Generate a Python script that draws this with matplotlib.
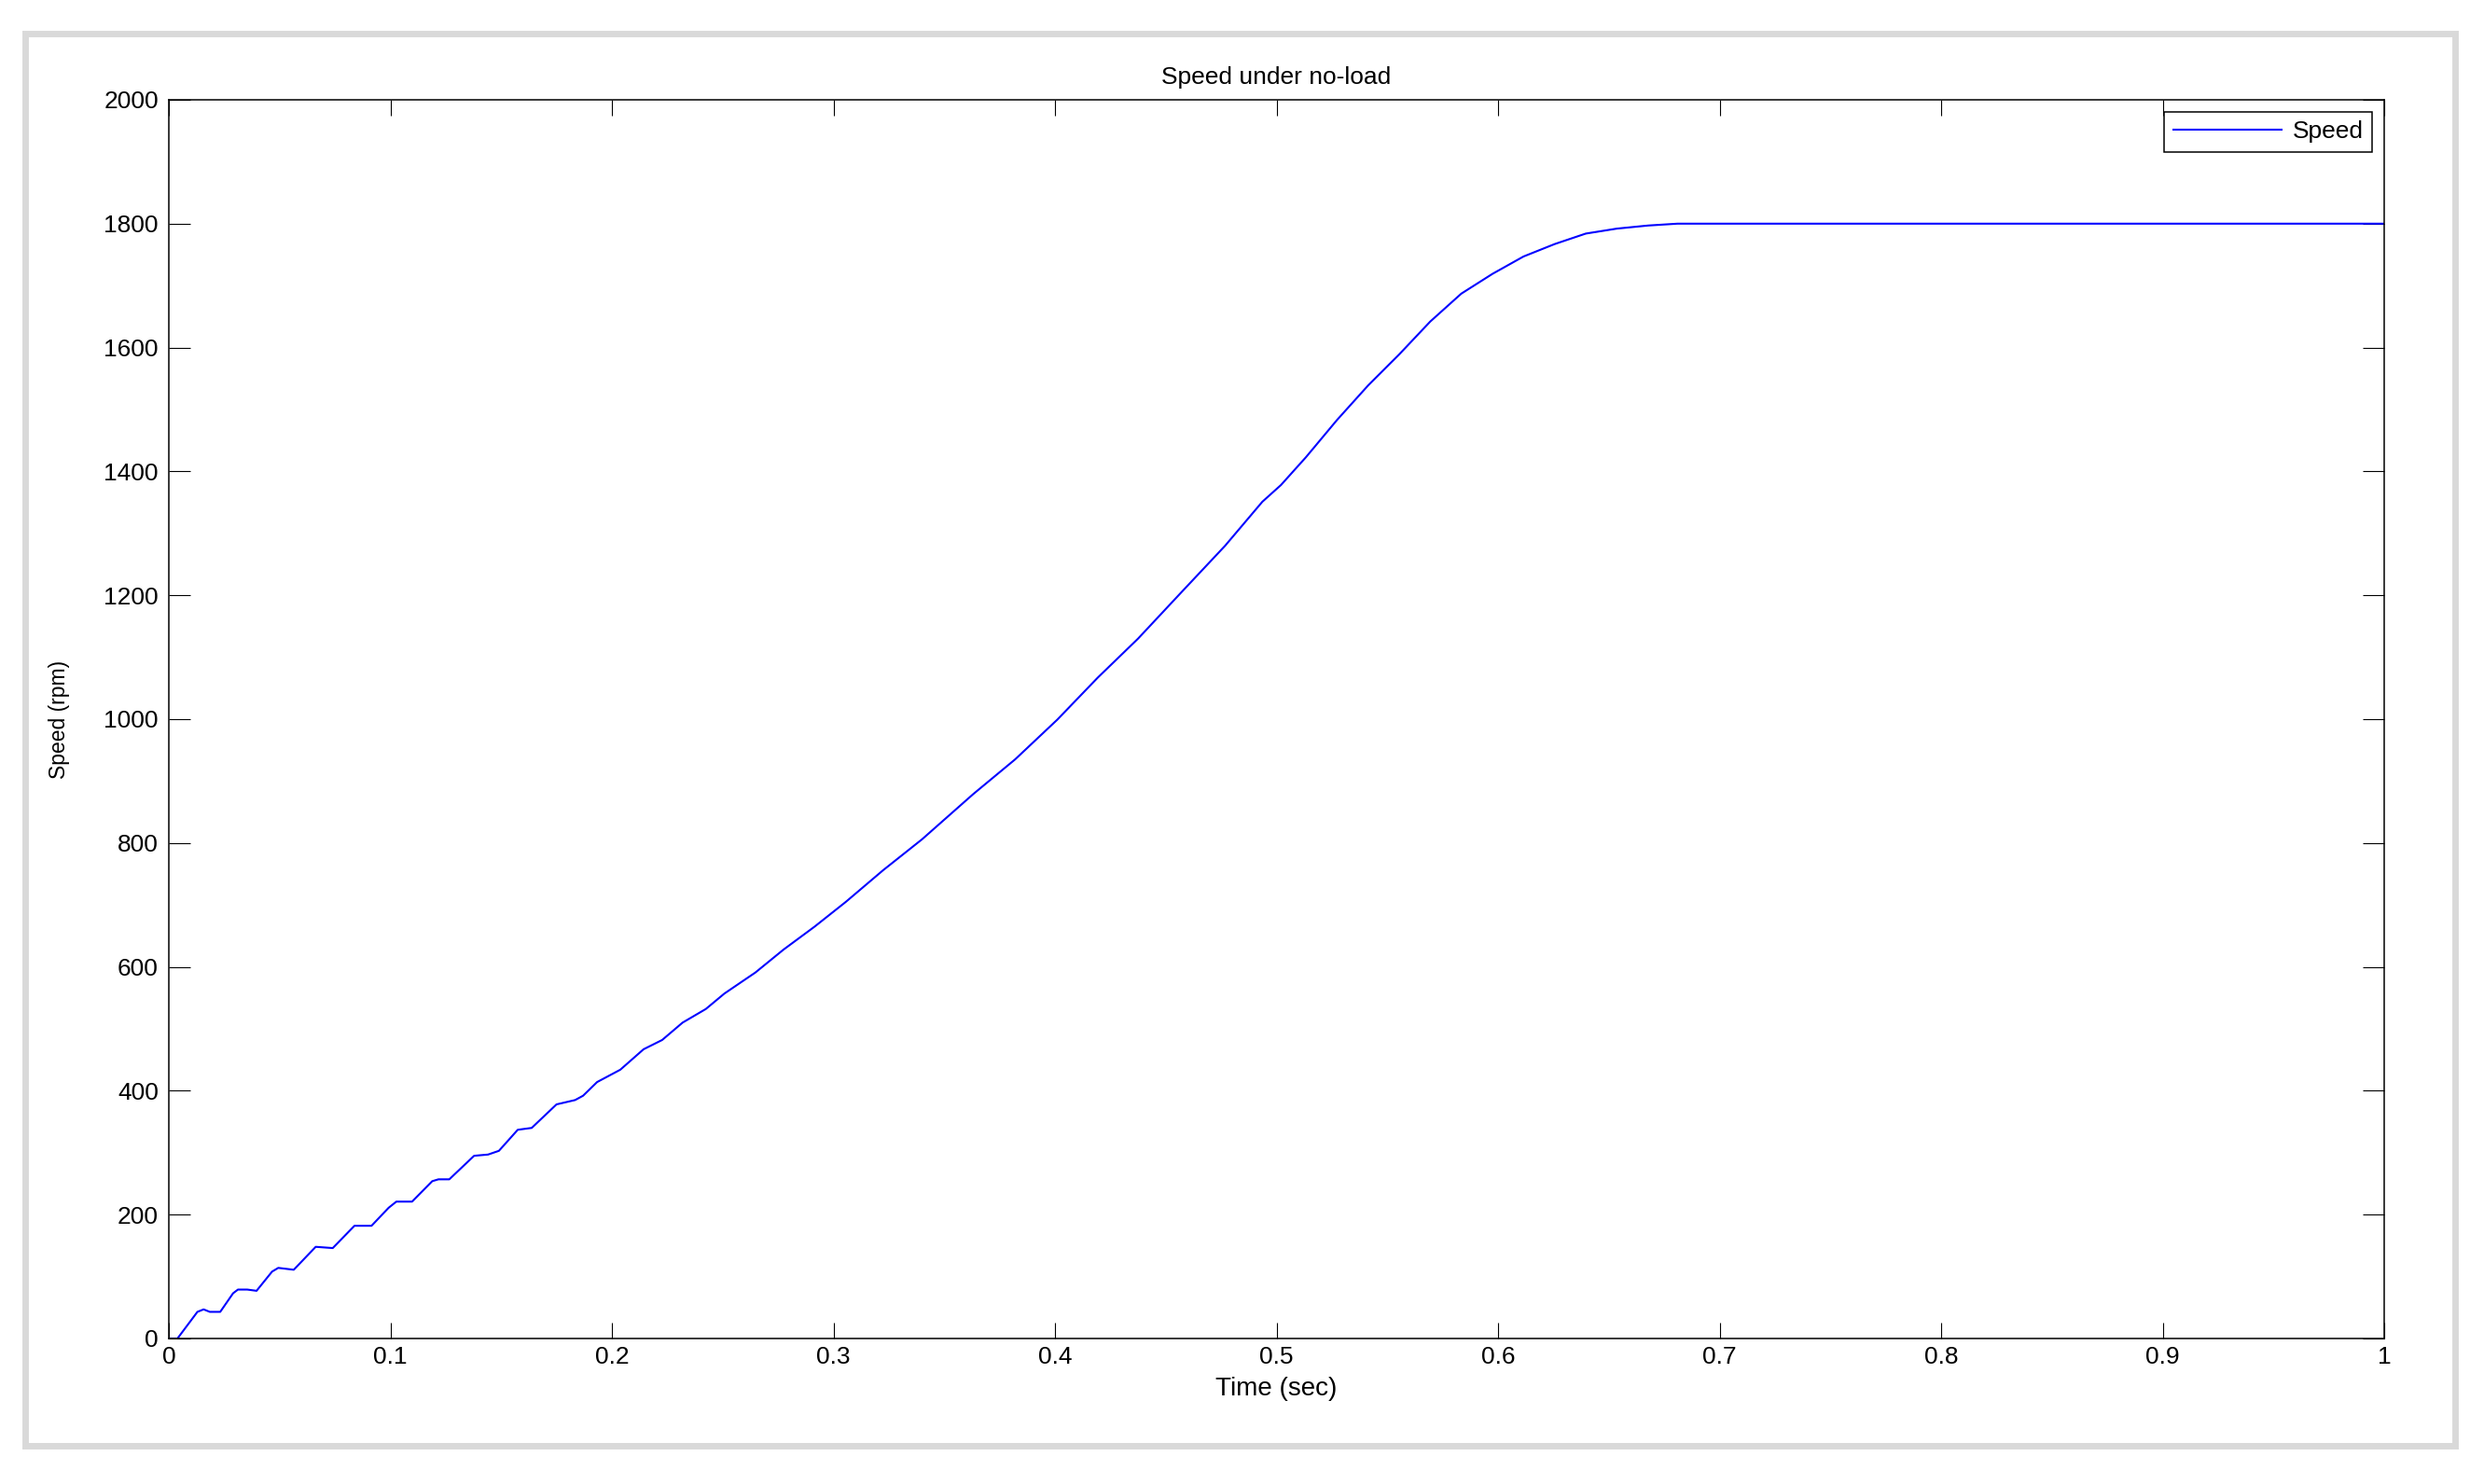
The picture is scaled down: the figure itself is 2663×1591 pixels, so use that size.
import matplotlib.pyplot as plt
from matplotlib.patches import Rectangle

# values
time_s = [0, 0.0039, 0.0129, 0.0157, 0.0185, 0.0232, 0.029, 0.0312, 0.0354, 0.0396,
          0.0466, 0.0494, 0.0564, 0.0663, 0.074, 0.0838, 0.0915, 0.0992, 0.1027, 0.1098,
          0.1189, 0.1217, 0.1266, 0.1378, 0.1441, 0.149, 0.1575, 0.1638, 0.175, 0.1834,
          0.187, 0.1933, 0.2038, 0.2143, 0.2227, 0.2319, 0.2424, 0.2508, 0.2648, 0.2775,
          0.2915, 0.3056, 0.3224, 0.34, 0.3631, 0.382, 0.401, 0.4193, 0.4375, 0.4571,
          0.4768, 0.4936, 0.502, 0.5133, 0.5273, 0.5414, 0.5554, 0.5694, 0.5834, 0.5975,
          0.6115, 0.6255, 0.6396, 0.6536, 0.6677, 0.681, 1.0]
speed_rpm = [0, 0, 43, 47, 43, 43, 73, 79, 79, 77,
             108, 114, 111, 148, 146, 182, 182, 211, 221, 221,
             254, 257, 257, 295, 297, 303, 337, 340, 378, 385,
             392, 414, 434, 467, 482, 510, 532, 557, 591, 628,
             665, 705, 756, 806, 879, 935, 999, 1067, 1130, 1205,
             1280, 1351, 1378, 1423, 1483, 1539, 1589, 1642, 1687, 1719,
             1747, 1767, 1784, 1792, 1797, 1800, 1800]

x_ticks = [0, 0.1, 0.2, 0.3, 0.4, 0.5, 0.6, 0.7, 0.8, 0.9, 1]
x_tick_labels = ['0', '0.1', '0.2', '0.3', '0.4', '0.5', '0.6', '0.7', '0.8', '0.9', '1']
y_ticks = [0, 200, 400, 600, 800, 1000, 1200, 1400, 1600, 1800, 2000]

plt.rcParams['font.family'] = ['Liberation Sans', 'DejaVu Sans']

W, H = 2663, 1591
fig = plt.figure(figsize=(W / 100, H / 100), dpi=100)

# light grey frame round the whole figure
fig.patches.append(Rectangle((26.5 / W, 1 - 1549.5 / H), 2605 / W, 1514 / H,
                             transform=fig.transFigure, fill=False,
                             edgecolor='#d9d9d9', linewidth=5.0))

ax = fig.add_axes([181 / W, 1 - 1435 / H, 2375 / W, 1328 / H])
ax.plot(time_s, speed_rpm, color='#0000ff', linewidth=1.5, label='Speed')

ax.set_xlim(0, 1)
ax.set_ylim(0, 2000)
ax.set_xticks(x_ticks)
ax.set_xticklabels(x_tick_labels)
ax.set_yticks(y_ticks)

ax.tick_params(axis='both', direction='in', top=True, right=True,
               labelsize=19, width=0.8, colors='black')
ax.tick_params(axis='x', length=12, pad=6)
ax.tick_params(axis='y', length=16.5, pad=8)
for s in ax.spines.values():
    s.set_linewidth(1.1)

ax.set_title('Speed under no-load', fontsize=19, pad=12)
ax.set_xlabel('Time (sec)', fontsize=20, labelpad=6)
ax.set_ylabel('Speed (rpm)', fontsize=16.5, labelpad=26)

leg = ax.legend(loc='upper right', fontsize=19, fancybox=False, framealpha=1,
                edgecolor='black', borderpad=0.35, handlelength=4.4,
                handletextpad=0.45, borderaxespad=0.5)
leg.get_frame().set_linewidth(1.1)

plt.savefig('out.png', dpi=100)
plt.close()
